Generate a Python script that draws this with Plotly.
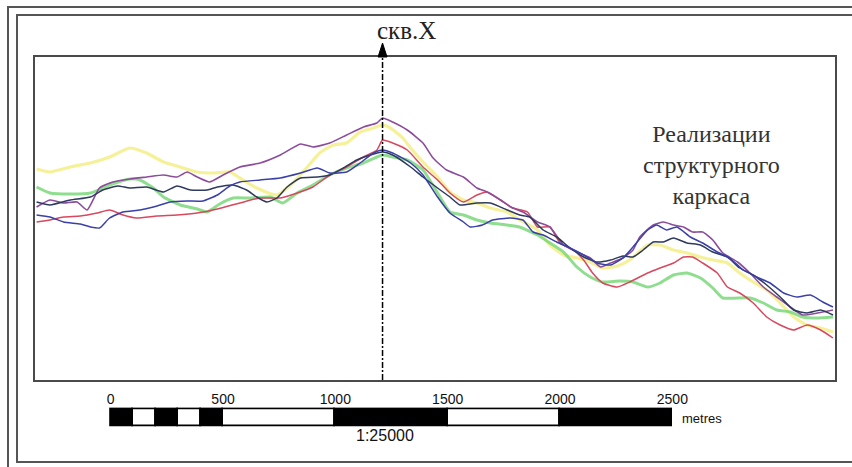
import plotly.graph_objects as go

# ---------------- data (distance along profile, m ; relative height, units) ----------------
WELL_X = 1210  # position of well "скв.X", m

yellow_x = [-330, -270, -180, -90, -5, 85, 160, 235, 310, 385, 455, 530, 575, 650, 740, 810, 875, 930, 990, 1050,
            1110, 1170, 1210, 1245, 1300, 1335, 1390, 1455, 1510, 1570, 1630, 1690, 1765, 1820, 1900, 1955, 2015,
            2075, 2135, 2190, 2255, 2310, 2390, 2445, 2505, 2565, 2625, 2680, 2745, 2800, 2860, 2920, 2980, 3040,
            3100, 3160, 3215]
yellow_y = [211, 208, 213, 217, 223, 232, 227, 218, 213, 208, 207, 208, 202, 192, 185, 197, 213, 227, 235, 237,
            248, 252, 255, 252, 242, 232, 218, 203, 188, 180, 177, 172, 168, 160, 150, 135, 125,
            122, 118, 112, 114, 120, 135, 135, 130, 127, 123, 120, 117, 107, 98, 90, 77, 63,
            55, 52, 48]

green_x = [-330, -270, -180, -90, -5, 85, 130, 190, 235, 310, 385, 430, 485, 545, 620, 710, 765, 830, 900, 975,
           1050, 1125, 1185, 1210, 1255, 1320, 1390, 1455, 1510, 1570, 1630, 1690, 1765, 1820, 1900, 1955, 2015,
           2075, 2135, 2190, 2265, 2325, 2390, 2445, 2505, 2565, 2625, 2680, 2725, 2790, 2845, 2905, 2965, 3025,
           3080, 3145, 3215]
green_y = [193, 187, 186, 187, 195, 201, 200, 192, 183, 175, 171, 168, 176, 182, 182, 183, 177, 187, 195, 205,
           212, 217, 223, 225, 223, 220, 210, 187, 168, 165, 160, 157, 155, 153, 145, 137, 128,
           113, 103, 98, 99, 98, 93, 97, 105, 107, 102, 92, 82, 82, 82, 77, 70, 68,
           63, 62, 63]

purple_x = [-330, -270, -210, -150, -105, -50, 10, 85, 160, 235, 295, 340, 385, 440, 500, 575, 665, 755, 845, 900,
            975, 1050, 1125, 1185, 1210, 1255, 1320, 1390, 1435, 1495, 1570, 1630, 1675, 1735, 1780, 1835, 1900,
            1955, 2015, 2075, 2135, 2180, 2225, 2280, 2325, 2355, 2415, 2460, 2505, 2550, 2590, 2635, 2680, 2725,
            2790, 2845, 2905, 2965, 3025, 3080, 3145, 3215]
purple_y = [173, 180, 177, 178, 170, 192, 198, 201, 203, 205, 203, 208, 203, 198, 205, 213, 217, 225, 236, 233,
            237, 245, 253, 257, 262, 258, 250, 237, 222, 210, 203, 192, 188, 180, 173, 168, 158,
            153, 135, 128, 122, 113, 117, 122, 130, 143, 155, 158, 155, 153, 148, 148, 140, 127,
            118, 107, 93, 83, 73, 65, 67, 70]

red_x = [-330, -270, -210, -135, -60, -5, 55, 115, 205, 295, 385, 475, 575, 665, 755, 830, 900, 975, 1050, 1125,
         1185, 1210, 1255, 1320, 1390, 1455, 1510, 1570, 1630, 1675, 1735, 1790, 1855, 1900, 1955, 2000, 2060,
         2105, 2145, 2190, 2255, 2310, 2390, 2445, 2505, 2550, 2590, 2635, 2700, 2745, 2800, 2860, 2920, 2980,
         3040, 3100, 3160, 3215]
red_y = [158, 160, 163, 164, 167, 170, 165, 162, 164, 165, 167, 171, 177, 182, 182, 187, 193, 205, 213, 223,
         230, 240, 237, 230, 213, 200, 187, 178, 185, 188, 180, 172, 168, 153, 153, 137, 130,
         120, 107, 97, 93, 98, 107, 112, 117, 123, 123, 117, 107, 93, 87, 77, 63, 55,
         50, 55, 50, 42]

navy_x = [-330, -270, -180, -90, -35, 30, 85, 160, 235, 295, 355, 430, 475, 545, 605, 650, 695, 740, 785, 845,
          920, 975, 1035, 1095, 1155, 1210, 1255, 1335, 1390, 1455, 1510, 1555, 1630, 1690, 1765, 1820, 1865,
          1925, 1985, 2045, 2105, 2165, 2225, 2280, 2325, 2370, 2415, 2460, 2505, 2565, 2625, 2680, 2745, 2800,
          2860, 2920, 2980, 3040, 3100, 3160, 3215]
navy_y = [178, 175, 180, 183, 190, 194, 192, 193, 188, 194, 190, 190, 193, 195, 190, 183, 178, 182, 193, 202,
          203, 205, 212, 220, 225, 228, 225, 213, 203, 192, 183, 175, 177, 177, 170, 165, 163,
          150, 143, 132, 123, 118, 120, 124, 123, 130, 138, 138, 142, 137, 135, 128, 123, 112,
          105, 95, 83, 70, 67, 70, 65]

blue_x = [-330, -270, -210, -135, -90, -50, -5, 55, 130, 190, 265, 340, 410, 475, 530, 575, 665, 755, 845, 920,
          975, 1050, 1110, 1170, 1210, 1255, 1335, 1390, 1455, 1510, 1570, 1600, 1655, 1700, 1780, 1835, 1880,
          1925, 1985, 2045, 2105, 2165, 2225, 2280, 2325, 2390, 2430, 2475, 2520, 2580, 2635, 2700, 2755, 2815,
          2875, 2935, 2995, 3055, 3115, 3170, 3215]
blue_y = [165, 163, 158, 156, 153, 152, 162, 168, 170, 173, 178, 179, 179, 185, 194, 198, 200, 202, 207, 212,
          207, 208, 217, 227, 230, 227, 217, 205, 183, 167, 158, 153, 155, 160, 162, 160, 148,
          145, 138, 132, 125, 117, 115, 122, 133, 150, 155, 150, 153, 143, 137, 128, 122, 110,
          103, 97, 87, 83, 85, 78, 73]

# scale bar
scale_edges = [0, 100, 200, 300, 400, 500, 1000, 1500, 2000, 2500]
scale_ticks = [0, 500, 1000, 1500, 2000, 2500]
scale_text = "1:25000"
scale_unit = "metres"
well_label = "скв.X"
note_label = "Реализации<br>структурного<br>каркаса"

series = [
    (yellow_x, yellow_y, "rgba(242,238,128,0.8)", 3.2),
    (green_x, green_y, "rgba(115,214,115,0.8)", 3.0),
    (red_x, red_y, "#d8485e", 1.5),
    (purple_x, purple_y, "#8c4c9c", 1.6),
    (navy_x, navy_y, "#2e3a5e", 1.5),
    (blue_x, blue_y, "#3a40a8", 1.5),
]

# ---------------- geometry ----------------
W, H = 852, 467
X_RANGE = [-337, 3224]
Y_RANGE = [0, 323]
px = lambda v: v / W
py = lambda v: 1 - v / H
plot_dom_x = [px(35), px(835)]
plot_dom_y = [py(380), py(57)]
# scale bar: data 0..1 maps to pixel rows 426..409, small pad so outlines are not clipped
PAD = 0.1
bar_px_h = 426 - 409
bar_dom_y = [py(426 + PAD * bar_px_h), py(409 - PAD * bar_px_h)]

fig = go.Figure()
for xs, ys, col, w in series:
    fig.add_trace(go.Scatter(x=xs, y=ys, mode="lines",
                             line=dict(color=col, width=w, shape="spline", smoothing=0.5),
                             hoverinfo="skip", xaxis="x", yaxis="y"))

# scale bar segments
seg_c = [(a + b) / 2 for a, b in zip(scale_edges[:-1], scale_edges[1:])]
seg_w = [b - a for a, b in zip(scale_edges[:-1], scale_edges[1:])]
seg_col = ["black" if i % 2 == 0 else "white" for i in range(len(seg_c))]
fig.add_trace(go.Bar(x=seg_c, y=[1] * len(seg_c), width=seg_w, base=0,
                     marker=dict(color=seg_col, line=dict(color="black", width=1.8)),
                     xaxis="x2", yaxis="y2", hoverinfo="skip"))

axis_common = dict(showgrid=False, zeroline=False, showticklabels=False, ticks="")
fig.update_layout(
    width=W, height=H, margin=dict(l=0, r=0, t=0, b=0),
    paper_bgcolor="white", plot_bgcolor="white", showlegend=False, bargap=0,
    xaxis=dict(domain=plot_dom_x, range=X_RANGE, showline=True, mirror=True,
               linecolor="#4a4a4a", linewidth=2, anchor="y", **axis_common),
    yaxis=dict(domain=plot_dom_y, range=Y_RANGE, showline=True, mirror=True,
               linecolor="#4a4a4a", linewidth=2, anchor="x", **axis_common),
    xaxis2=dict(domain=plot_dom_x, range=X_RANGE, anchor="y2", side="top",
                showgrid=False, zeroline=False, showline=False, ticks="",
                tickvals=scale_ticks, ticktext=[str(t) for t in scale_ticks],
                tickfont=dict(family="Liberation Sans", size=14, color="#111"),
                ticklabelstandoff=0),
    yaxis2=dict(domain=bar_dom_y, range=[-PAD, 1 + PAD], anchor="x2", showline=False, **axis_common),
)

shapes = []
# double frame
shapes.append(dict(type="rect", xref="paper", yref="paper", x0=px(8), x1=1.05, y0=-0.05, y1=py(7),
                   line=dict(color="#555", width=2)))
shapes.append(dict(type="rect", xref="paper", yref="paper", x0=px(17), x1=1.05, y0=py(462), y1=py(15),
                   line=dict(color="#555", width=2)))
# well line
shapes.append(dict(type="line", xref="x", yref="y", x0=WELL_X, x1=WELL_X, y0=Y_RANGE[0], y1=Y_RANGE[1],
                   line=dict(color="black", width=1.5, dash="6px,2px,2px,2px")))
# arrow head
hw = 20
shapes.append(dict(type="path", xref="x", yref="paper",
                   path=f"M {WELL_X - hw},{py(57)} L {WELL_X + hw},{py(57)} L {WELL_X},{py(43)} Z",
                   fillcolor="black", line=dict(color="black", width=1)))
fig.update_layout(shapes=shapes)

fig.add_annotation(x=WELL_X, xref="x", xshift=24, y=py(30), yref="paper", text=well_label,
                   showarrow=False, yanchor="middle", xanchor="center",
                   font=dict(family="Liberation Serif", size=25, color="#222"))
fig.add_annotation(x=px(711), xref="paper", y=py(165), yref="paper", text=note_label,
                   showarrow=False, align="center", yanchor="middle", xanchor="center",
                   font=dict(family="Liberation Serif", size=24, color="#333"))
fig.add_annotation(x=px(680), xref="paper", y=py(418), yref="paper", text=scale_unit,
                   showarrow=False, xanchor="left", yanchor="middle",
                   font=dict(family="Liberation Sans", size=13, color="#111"))
fig.add_annotation(x=px(385), xref="paper", y=py(435), yref="paper", text=scale_text,
                   showarrow=False, xanchor="center", yanchor="middle",
                   font=dict(family="Liberation Sans", size=16, color="#111"))

fig.write_html("out.html", config={"displayModeBar": False},
               post_script="document.body.style.margin='0';")
